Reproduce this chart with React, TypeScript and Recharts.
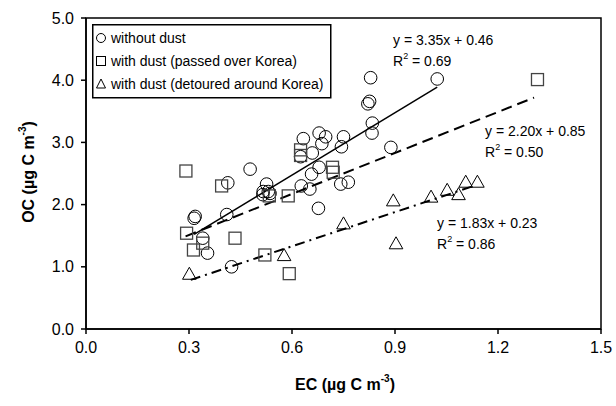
import React from 'react';
import {
  ScatterChart,
  Scatter,
  XAxis,
  YAxis,
  ReferenceArea,
  ReferenceLine,
  Customized,
} from 'recharts';

const FONT = "Arial, 'Liberation Sans', sans-serif";

const xTicks = [0, 0.3, 0.6, 0.9, 1.2, 1.5];
const yTicks = [0, 1, 2, 3, 4, 5];

const seriesNames = [
  'without dust',
  'with dust (passed over Korea)',
  'with dust (detoured around Korea)',
];

const withoutDust = [
  { x: 1.023, y: 4.02 },
  { x: 0.829, y: 4.04 },
  { x: 0.821, y: 3.62 },
  { x: 0.826, y: 3.66 },
  { x: 0.834, y: 3.31 },
  { x: 0.833, y: 3.15 },
  { x: 0.888, y: 2.92 },
  { x: 0.679, y: 3.15 },
  { x: 0.698, y: 3.09 },
  { x: 0.633, y: 3.06 },
  { x: 0.75, y: 3.09 },
  { x: 0.687, y: 2.98 },
  { x: 0.744, y: 2.93 },
  { x: 0.625, y: 2.77 },
  { x: 0.659, y: 2.83 },
  { x: 0.679, y: 2.6 },
  { x: 0.657, y: 2.49 },
  { x: 0.627, y: 2.3 },
  { x: 0.652, y: 2.25 },
  { x: 0.742, y: 2.33 },
  { x: 0.764, y: 2.36 },
  { x: 0.677, y: 1.94 },
  { x: 0.478, y: 2.57 },
  { x: 0.413, y: 2.35 },
  { x: 0.318, y: 1.81 },
  { x: 0.315, y: 1.78 },
  { x: 0.41, y: 1.84 },
  { x: 0.34, y: 1.46 },
  { x: 0.354, y: 1.22 },
  { x: 0.424, y: 1.0 },
  { x: 0.526, y: 2.33 },
  { x: 0.516, y: 2.21 },
  { x: 0.531, y: 2.21 },
  { x: 0.515, y: 2.16 },
  { x: 0.536, y: 2.18 },
];

const dustPassed = [
  { x: 1.315, y: 4.01 },
  { x: 0.291, y: 2.54 },
  { x: 0.395, y: 2.3 },
  { x: 0.293, y: 1.54 },
  { x: 0.313, y: 1.27 },
  { x: 0.34, y: 1.38 },
  { x: 0.434, y: 1.46 },
  { x: 0.521, y: 1.19 },
  { x: 0.592, y: 0.89 },
  { x: 0.534, y: 2.14 },
  { x: 0.589, y: 2.14 },
  { x: 0.625, y: 2.88 },
  { x: 0.625, y: 2.79 },
  { x: 0.718, y: 2.6 },
  { x: 0.72, y: 2.52 },
];

const dustDetoured = [
  { x: 0.301, y: 0.88 },
  { x: 0.577, y: 1.18 },
  { x: 0.75, y: 1.69 },
  { x: 0.903, y: 1.37 },
  { x: 0.895, y: 2.06 },
  { x: 1.005, y: 2.12 },
  { x: 1.052, y: 2.23 },
  { x: 1.085, y: 2.16 },
  { x: 1.106, y: 2.36 },
  { x: 1.14, y: 2.36 },
];

const fitWithout = [
  { x: 0.315, y: 1.52 },
  { x: 1.023, y: 3.89 },
];
const fitPassed = [
  { x: 0.29, y: 1.49 },
  { x: 1.305, y: 3.72 },
];
const fitDetoured = [
  { x: 0.305, y: 0.79 },
  { x: 1.135, y: 2.31 },
];

const fitText = [
  { eq: 'y = 3.35x + 0.46', r2: '0.69' },
  { eq: 'y = 2.20x + 0.85', r2: '0.50' },
  { eq: 'y = 1.83x + 0.23', r2: '0.86' },
];

const CircleShape = (p: any) => (
  <circle cx={p.cx} cy={p.cy} r={6.3} fill="none" stroke="#000" strokeWidth={1} />
);
const SquareShape = (p: any) => (
  <rect x={p.cx - 6} y={p.cy - 6} width={12} height={12} fill="none" stroke="#444" strokeWidth={1.3} />
);
const TriangleShape = (p: any) => (
  <path
    d={`M${p.cx},${p.cy - 7} L${p.cx + 6.8},${p.cy + 5} L${p.cx - 6.8},${p.cy + 5} Z`}
    fill="none"
    stroke="#000"
    strokeWidth={1}
  />
);

const LegendBox = () => (
  <g transform="translate(92,24)">
    <rect x={0.75} y={0.75} width={238} height={73} fill="#fff" stroke="#000" strokeWidth={1.5} />
    <circle cx={9} cy={14} r={4.5} fill="none" stroke="#000" strokeWidth={1} />
    <rect x={4.5} y={32.5} width={9} height={9} fill="none" stroke="#000" strokeWidth={1} />
    <path d="M9,55 L13.5,64 L4.5,64 Z" fill="none" stroke="#000" strokeWidth={1} />
    {seriesNames.map((n, i) => (
      <text
        key={n}
        x={19}
        y={14 + i * 23}
        dominantBaseline="central"
        fontSize={14}
        fontFamily={FONT}
        fill="#000"
      >
        {n}
      </text>
    ))}
  </g>
);

const Annotations = () => {
  const pos = [
    { x: 393, y: 40 },
    { x: 485, y: 131 },
    { x: 437, y: 223 },
  ];
  return (
    <g fontFamily={FONT} fill="#000">
      <LegendBox />
      {fitText.map((t, i) => (
        <g key={t.eq}>
          <text x={pos[i].x} y={pos[i].y} dominantBaseline="central" fontSize={14}>
            {t.eq}
          </text>
          <text x={pos[i].x} y={pos[i].y + 21} dominantBaseline="central" fontSize={14}>
            R
            <tspan fontSize={9} dy={-5}>
              2
            </tspan>
            <tspan dy={5}>{` = ${t.r2}`}</tspan>
          </text>
        </g>
      ))}
      <text
        x={28}
        y={172}
        transform="rotate(-90, 28, 172)"
        textAnchor="middle"
        dominantBaseline="central"
        fontSize={16}
        fontWeight="bold"
      >
        OC (µg C m
        <tspan fontSize={10} dy={-6}>
          -3
        </tspan>
        <tspan dy={6}>)</tspan>
      </text>
      <text x={345} y={384} textAnchor="middle" dominantBaseline="central" fontSize={16} fontWeight="bold">
        EC (µg C m
        <tspan fontSize={10} dy={-6}>
          -3
        </tspan>
        <tspan dy={6}>)</tspan>
      </text>
    </g>
  );
};

export default function App() {
  const axisLine = { stroke: '#000', strokeWidth: 1.5 };
  const tick = { fill: '#000', fontSize: 16, fontFamily: FONT };
  return (
    <div style={{ position: 'absolute', left: 0, top: 0, background: '#fff' }}>
      <ScatterChart width={616} height={406} margin={{ top: 18, right: 15, bottom: 0, left: 0 }}>
        <XAxis
          type="number"
          dataKey="x"
          domain={[0, 1.5]}
          ticks={xTicks}
          tickFormatter={(v: number) => v.toFixed(1)}
          height={77}
          axisLine={axisLine}
          tickLine={axisLine}
          tickSize={5}
          tickMargin={8}
          tick={tick}
          allowDataOverflow
        />
        <YAxis
          type="number"
          dataKey="y"
          domain={[0, 5]}
          ticks={yTicks}
          tickFormatter={(v: number) => v.toFixed(1)}
          width={86}
          axisLine={axisLine}
          tickLine={axisLine}
          tickSize={5}
          tickMargin={7}
          tick={tick}
          allowDataOverflow
        />
        <ReferenceArea x1={0} x2={1.5} y1={0} y2={5} fill="none" stroke="#000" strokeWidth={1.5} fillOpacity={0} />
        <Scatter name={seriesNames[0]} data={withoutDust} shape={CircleShape} isAnimationActive={false} />
        <Scatter name={seriesNames[1]} data={dustPassed} shape={SquareShape} isAnimationActive={false} />
        <Scatter name={seriesNames[2]} data={dustDetoured} shape={TriangleShape} isAnimationActive={false} />
        <ReferenceLine segment={fitWithout} stroke="#000" strokeWidth={1.5} />
        <ReferenceLine segment={fitPassed} stroke="#000" strokeWidth={2} strokeDasharray="11 6" />
        <ReferenceLine segment={fitDetoured} stroke="#000" strokeWidth={2} strokeDasharray="10 5 2 5" />
        <Customized component={Annotations} />
      </ScatterChart>
    </div>
  );
}
